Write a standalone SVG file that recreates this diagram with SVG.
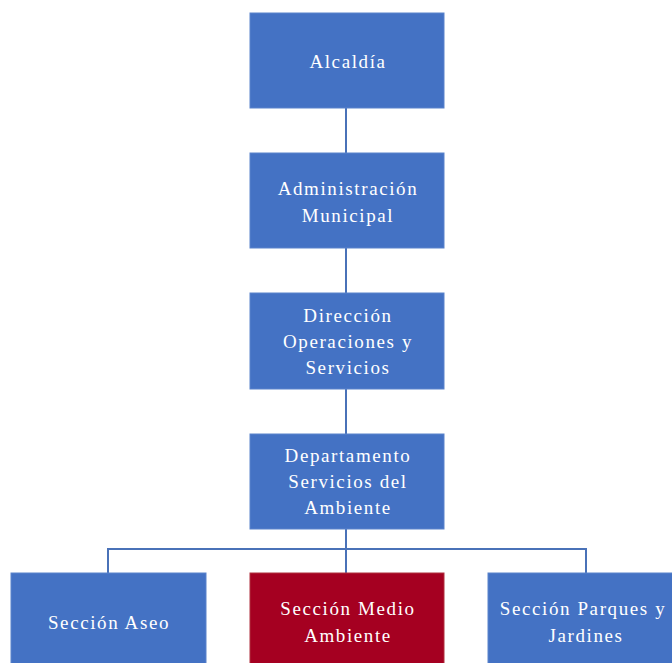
<svg xmlns="http://www.w3.org/2000/svg" width="672" height="663" viewBox="0 0 672 663">
<style>
.b{fill:#4472C4;stroke:#5A83CC;stroke-width:1}
.r{fill:#A50021;stroke:#B0303F;stroke-width:1}
.t{font-family:'Liberation Serif','DejaVu Serif',serif;font-size:19px;fill:#fff;text-anchor:middle;letter-spacing:1.6px}
.c{stroke:#4A72B8;stroke-width:2;fill:none}
</style>
<rect width="672" height="663" fill="#fff"/>
<g id="connectors">
<path class="c" d="M346 108V153M346 248V293M346 389V434M346 529V573M108 549H586M108 548V573M586 548V573"/>
</g>
<g id="alcaldia"><rect class="b" x="250" y="13" width="194" height="95"/><text class="t" x="348" y="68">Alcaldía</text></g>
<g id="administracion"><rect class="b" x="250" y="153" width="194" height="95"/><text class="t" x="348" y="195">Administración</text><text class="t" x="348" y="222">Municipal</text></g>
<g id="direccion"><rect class="b" x="250" y="293" width="194" height="96"/><text class="t" x="348" y="322">Dirección</text><text class="t" x="348" y="348">Operaciones y</text><text class="t" x="348" y="374">Servicios</text></g>
<g id="departamento"><rect class="b" x="250" y="434" width="194" height="95"/><text class="t" x="348" y="462">Departamento</text><text class="t" x="348" y="488">Servicios del</text><text class="t" x="348" y="514">Ambiente</text></g>
<g id="aseo"><rect class="b" x="11" y="573" width="195" height="95"/><text class="t" x="109" y="629">Sección Aseo</text></g>
<g id="medio"><rect class="r" x="250" y="573" width="194" height="95"/><text class="t" x="348" y="615">Sección Medio</text><text class="t" x="348" y="642">Ambiente</text></g>
<g id="parques"><rect class="b" x="488" y="573" width="195" height="95"/><text class="t" x="583" y="615">Sección Parques y</text><text class="t" x="586" y="642">Jardines</text></g>
</svg>
